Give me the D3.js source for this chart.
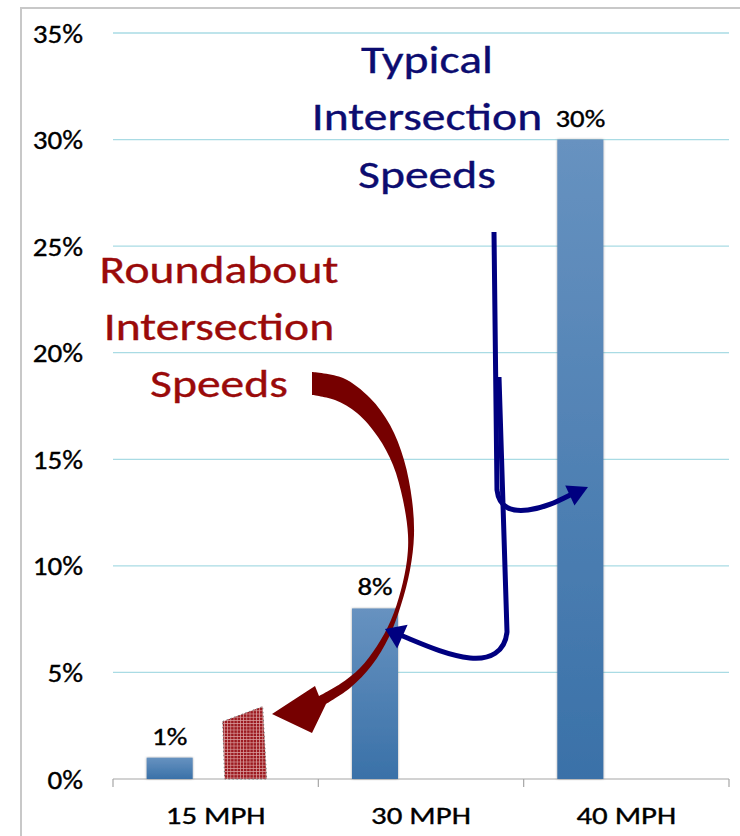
<!DOCTYPE html>
<html>
<head>
<meta charset="utf-8">
<script src="https://cdn.jsdelivr.net/npm/d3@7"></script>
<style>
  html, body { margin: 0; padding: 0; background: #fff; }
  svg { display: block; }
  text { font-family: Carlito, Lato, "Noto Sans", sans-serif; }
</style>
</head>
<body>
<svg id="chart" width="740" height="836"></svg>
<script>
// Share of crashes resulting in pedestrian fatality, by approach speed
const categories = ["15 MPH", "30 MPH", "40 MPH"];
const shares = [1, 8, 30];            // percent
const yTicks = [0, 5, 10, 15, 20, 25, 30, 35];
const yMax = 35;
const slotCount = 3;                   // cluster slots per category; speeds occupy the first

const svg = d3.select("#chart");
const W = 740, H = 836;
const plot = { left: 113, right: 729, top: 33, bottom: 779 };
const FONT = "Carlito, Lato, 'Noto Sans', sans-serif";

const x = d3.scaleBand().domain(categories).range([plot.left, plot.right]).padding(0);
const slot = d3.scaleBand().domain(d3.range(slotCount)).range([0, x.bandwidth()])
  .paddingInner(0).paddingOuter(0.732);
const y = d3.scaleLinear().domain([0, yMax]).range([plot.bottom, plot.top]);

// widen glyphs horizontally about their anchor point, with a touch of extra weight
function stretch(sel, sx) {
  sel.each(function () {
    const t = d3.select(this);
    const ax = +t.attr("x") || 0, ay = +t.attr("y") || 0;
    t.attr("transform", `translate(${ax},${ay}) scale(${sx},1) translate(${-ax},${-ay})`)
      .attr("stroke", t.attr("fill")).attr("stroke-width", 0.35);
  });
}

const defs = svg.append("defs");
const grad = defs.append("linearGradient").attr("id", "barFill")
  .attr("x1", 0).attr("y1", 0).attr("x2", 0).attr("y2", 1);
grad.append("stop").attr("offset", "0%").attr("stop-color", "#6792c0");
grad.append("stop").attr("offset", "100%").attr("stop-color", "#3a71a8");

const shadow = defs.append("filter").attr("id", "barShadow")
  .attr("x", "-20%").attr("y", "-5%").attr("width", "140%").attr("height", "110%");
shadow.append("feDropShadow").attr("dx", 0).attr("dy", 0)
  .attr("stdDeviation", 1.3).attr("flood-color", "#555").attr("flood-opacity", 0.55);

// fine checked fill for the roundabout block
const hatch = defs.append("pattern").attr("id", "hatch")
  .attr("patternUnits", "userSpaceOnUse").attr("width", 3.2).attr("height", 3.2);
hatch.append("rect").attr("width", 3.2).attr("height", 3.2).attr("fill", "#9c1a20");
hatch.append("path").attr("d", "M0,0.4H3.2M0.4,0V3.2")
  .attr("stroke", "#d9a0a0").attr("stroke-width", 0.7);

// frame
svg.append("path").attr("d", `M21,${H}V8H${W}`)
  .attr("fill", "none").attr("stroke", "#c8c8c8").attr("stroke-width", 2);

// gridlines
svg.append("g").selectAll("line").data(yTicks.filter(d => d > 0)).join("line")
  .attr("x1", plot.left).attr("x2", plot.right)
  .attr("y1", d => y(d)).attr("y2", d => y(d))
  .attr("stroke", "#a9dbe4").attr("stroke-width", 1.3);

// y axis labels
const yAxis = d3.axisLeft(y).tickValues(yTicks).tickSize(0).tickPadding(30)
  .tickFormat(d => d + "%");
const gy = svg.append("g").attr("transform", `translate(${plot.left},0)`).call(yAxis);
gy.select(".domain").remove();
gy.selectAll("text").attr("font-size", 26).attr("fill", "#000")
  .attr("dy", "0.35em").style("font-family", FONT).call(stretch, 1.12);

// x axis: baseline, category boundary ticks and labels
svg.append("line").attr("x1", plot.left).attr("x2", plot.right)
  .attr("y1", y(0)).attr("y2", y(0)).attr("stroke", "#a6a6a6").attr("stroke-width", 1.2);
const bounds = categories.map(c => x(c)).concat([plot.right]);
svg.append("g").selectAll("line").data(bounds).join("line")
  .attr("x1", d => d).attr("x2", d => d)
  .attr("y1", y(0)).attr("y2", y(0) + 8)
  .attr("stroke", "#a6a6a6").attr("stroke-width", 1.2);
const xAxis = d3.axisBottom(x).tickSize(0);
const gx = svg.append("g").attr("transform", `translate(0,${y(0)})`).call(xAxis);
gx.select(".domain").remove();
gx.selectAll("text").attr("font-size", 24.5).attr("fill", "#000")
  .attr("y", 45).attr("dy", 0).style("font-family", FONT).call(stretch, 1.26);

// bars
const barData = categories.map((c, i) => ({ c, v: shares[i] }));
const barX = d => x(d.c) + slot(0);
svg.append("g").selectAll("rect").data(barData).join("rect")
  .attr("x", barX).attr("width", slot.bandwidth())
  .attr("y", d => y(d.v)).attr("height", d => y(0) - y(d.v))
  .attr("fill", "url(#barFill)").attr("filter", "url(#barShadow)");

// value labels
svg.append("g").selectAll("text").data(barData).join("text")
  .attr("x", d => barX(d) + slot.bandwidth() / 2)
  .attr("y", d => y(d.v) - 13)
  .attr("text-anchor", "middle").attr("font-size", 24).attr("fill", "#000")
  .text(d => d.v + "%").call(stretch, 1.2);

// roundabout speed block beside the 15 MPH bar
const bx = x("15 MPH") + slot(0) + slot.bandwidth();
const block = [[bx + 30, y(2.7)], [bx + 70, y(3.4)], [bx + 74, y(0)], [bx + 32, y(0)]];
svg.append("path").attr("d", "M" + block.join("L") + "Z")
  .attr("fill", "url(#hatch)").attr("stroke", "#777").attr("stroke-width", 1)
  .attr("stroke-dasharray", "1.5,2.5");

// annotation headings
function heading(lines, cx, baselines, color) {
  const t = svg.append("text").attr("text-anchor", "middle")
    .attr("x", cx).attr("y", baselines[0])
    .attr("font-size", 39).attr("fill", color);
  lines.forEach((s, i) => t.append("tspan").attr("x", cx).attr("y", baselines[i]).text(s));
  stretch(t, 1.22);
}
heading(["Typical", "Intersection", "Speeds"], 427, [73, 130, 188], "#0c0c70");
heading(["Roundabout", "Intersection", "Speeds"], 219, [283, 340, 397], "#9a0a0a");

// curved red arrow from the roundabout heading to the block
const smooth = d3.line().curve(d3.curveCatmullRom.alpha(0.5));
const outer = [[312,372],[343,378],[370,398],[390,425],[404,460],[412,500],[414,535],
  [410,570],[401,605],[389,637],[372,665],[350,688],[326,704]];
const inner = [[319,696],[340,684],[360,668],[377,646],[391,620],[401,590],[407,560],
  [408,535],[403,500],[393,465],[378,437],[357,413],[335,400],[312,395]];
const head = [[312,733],[272,714],[315,686]];
const redPath = smooth(outer) + "L" + head.join("L") + "L" + smooth(inner).slice(1) + "Z";
svg.append("path").attr("d", redPath).attr("fill", "#760000");

// blue arrows from the typical heading to the 40 and 30 MPH bars
const navy = "#000080";
function arrowHead(tip, from, len, half) {
  const dx = tip[0] - from[0], dy = tip[1] - from[1];
  const n = Math.hypot(dx, dy), ux = dx / n, uy = dy / n;
  const bxp = tip[0] - ux * len, byp = tip[1] - uy * len;
  return `M${tip}L${bxp - uy * half},${byp + ux * half}L${bxp + uy * half},${byp - ux * half}Z`;
}
svg.append("path")
  .attr("d", "M494,232L497,490C499,508 512,512 528,510C545,508 558,501 572,494")
  .attr("fill", "none").attr("stroke", navy).attr("stroke-width", 5);
svg.append("path").attr("d", arrowHead([588, 487], [560, 500], 20, 11)).attr("fill", navy);
svg.append("path")
  .attr("d", "M499,377L507,632C505,652 490,660 470,658C445,655 420,643 400,635")
  .attr("fill", "none").attr("stroke", navy).attr("stroke-width", 5);
svg.append("path").attr("d", arrowHead([385, 629], [410, 640], 19, 13)).attr("fill", navy);
</script>
</body>
</html>
